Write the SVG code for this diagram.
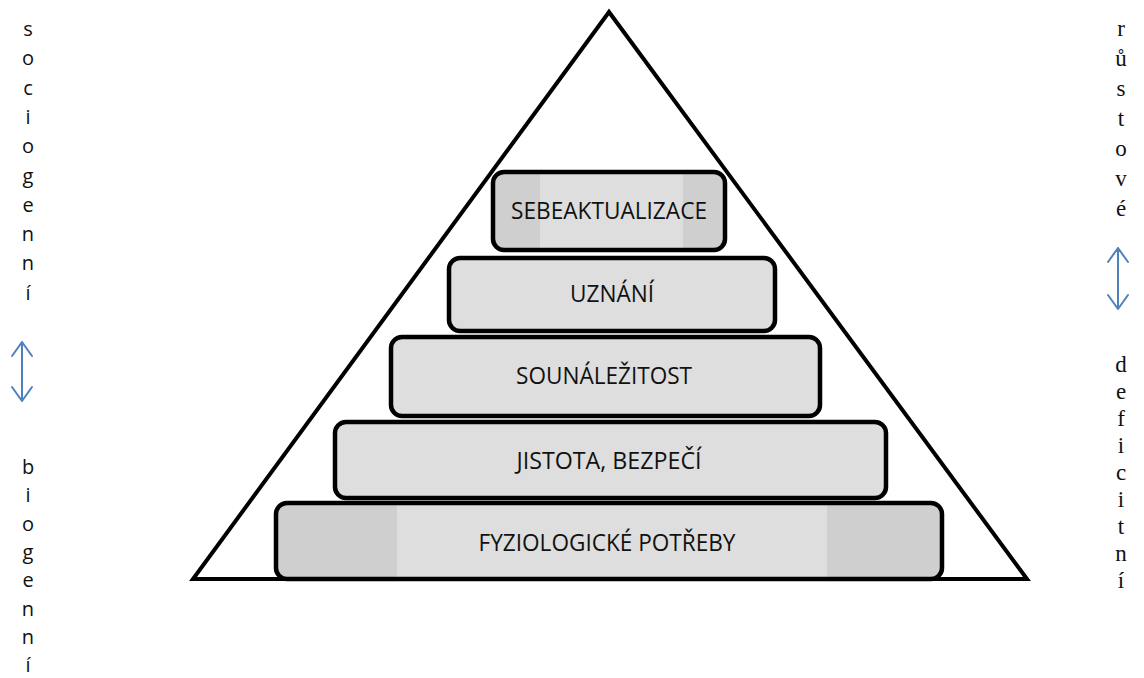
<svg xmlns="http://www.w3.org/2000/svg" width="1144" height="678" viewBox="0 0 1144 678">
<style>
.lvl{fill:#dedede;stroke:none}
.band{fill:#cfcfcf}
.edge{fill:none;stroke:#000;stroke-width:4.5}
.lbl{font-family:"Open Sans","Noto Sans",sans-serif;font-size:23px;fill:#111;text-anchor:middle}
.side{font-family:"Open Sans","Noto Sans",sans-serif;font-size:20px;fill:#111;text-anchor:middle}
.sider{font-family:"Liberation Serif","Times New Roman",serif;font-size:23px;fill:#111;text-anchor:middle}
.arr{fill:none;stroke:#4f81bd;stroke-width:2;stroke-linecap:round;stroke-linejoin:round}
</style>
<defs>
<clipPath id="c1"><rect x="493" y="172" width="232" height="78" rx="11"/></clipPath>
<clipPath id="c5"><rect x="276" y="503" width="666" height="76" rx="11"/></clipPath>
</defs>
<rect width="1144" height="678" fill="#fff"/>
<g id="pyramid">
<polygon points="609,12 193,579 1027,579" fill="#fff" stroke="#000" stroke-width="4" stroke-linejoin="miter"/>
</g>
<g id="level-sebeaktualizace">
<rect class="lvl" x="493" y="172" width="232" height="78" rx="11"/>
<g clip-path="url(#c1)"><rect class="band" x="493" y="172" width="47" height="78"/><rect class="band" x="683" y="172" width="42" height="78"/></g>
<rect class="edge" x="493" y="172" width="232" height="78" rx="11"/>
<text class="lbl" x="609" y="219" textLength="196" lengthAdjust="spacingAndGlyphs">SEBEAKTUALIZACE</text>
</g>
<g id="level-uznani">
<rect class="lvl" x="449" y="258" width="326" height="73" rx="11"/>
<rect class="edge" x="449" y="258" width="326" height="73" rx="11"/>
<text class="lbl" x="612" y="302" textLength="84" lengthAdjust="spacingAndGlyphs">UZNÁNÍ</text>
</g>
<g id="level-sounalezitost">
<rect class="lvl" x="391" y="337" width="429" height="79" rx="11"/>
<rect class="edge" x="391" y="337" width="429" height="79" rx="11"/>
<text class="lbl" x="604" y="384" textLength="176" lengthAdjust="spacingAndGlyphs">SOUNÁLEŽITOST</text>
</g>
<g id="level-jistota">
<rect class="lvl" x="335" y="422" width="551" height="76" rx="11"/>
<rect class="edge" x="335" y="422" width="551" height="76" rx="11"/>
<text class="lbl" x="609" y="469" textLength="185" lengthAdjust="spacingAndGlyphs">JISTOTA, BEZPEČÍ</text>
</g>
<g id="level-fyziologicke">
<rect class="lvl" x="276" y="503" width="666" height="76" rx="11"/>
<g clip-path="url(#c5)"><rect class="band" x="276" y="503" width="121" height="76"/><rect class="band" x="827" y="503" width="115" height="76"/></g>
<rect class="edge" x="276" y="503" width="666" height="76" rx="11"/>
<text class="lbl" x="607" y="551" textLength="257" lengthAdjust="spacingAndGlyphs">FYZIOLOGICKÉ POTŘEBY</text>
</g>
<g id="connectors">
<path class="arr" d="M22,342 V401 M12,356 L22,342 L32,356 M12,387 L22,401 L32,387"/>
<path class="arr" d="M1118,248 V309 M1108,262 L1118,248 L1128,262 M1108,295 L1118,309 L1128,295"/>
</g>
<g id="label-sociogenni">
<text class="side"><tspan x="28" y="36">s</tspan><tspan x="28" y="65.3">o</tspan><tspan x="28" y="94.6">c</tspan><tspan x="28" y="123.9">i</tspan><tspan x="28" y="153.2">o</tspan><tspan x="28" y="182.5">g</tspan><tspan x="28" y="211.8">e</tspan><tspan x="28" y="241.1">n</tspan><tspan x="28" y="270.4">n</tspan><tspan x="28" y="299.7">í</tspan></text>
</g>
<g id="label-biogenni">
<text class="side"><tspan x="28" y="474">b</tspan><tspan x="28" y="502.3">i</tspan><tspan x="28" y="530.6">o</tspan><tspan x="28" y="558.9">g</tspan><tspan x="28" y="587.2">e</tspan><tspan x="28" y="615.5">n</tspan><tspan x="28" y="643.8">n</tspan><tspan x="28" y="672">í</tspan></text>
</g>
<g id="label-rustove">
<text class="sider"><tspan x="1121" y="36">r</tspan><tspan x="1121" y="66">ů</tspan><tspan x="1121" y="96">s</tspan><tspan x="1121" y="126">t</tspan><tspan x="1121" y="156">o</tspan><tspan x="1121" y="186">v</tspan><tspan x="1121" y="216">é</tspan></text>
</g>
<g id="label-deficitni">
<text class="sider"><tspan x="1121" y="372">d</tspan><tspan x="1121" y="399">e</tspan><tspan x="1121" y="426">f</tspan><tspan x="1121" y="453">i</tspan><tspan x="1121" y="480">c</tspan><tspan x="1121" y="507">i</tspan><tspan x="1121" y="534">t</tspan><tspan x="1121" y="561">n</tspan><tspan x="1121" y="588">í</tspan></text>
</g>
</svg>
